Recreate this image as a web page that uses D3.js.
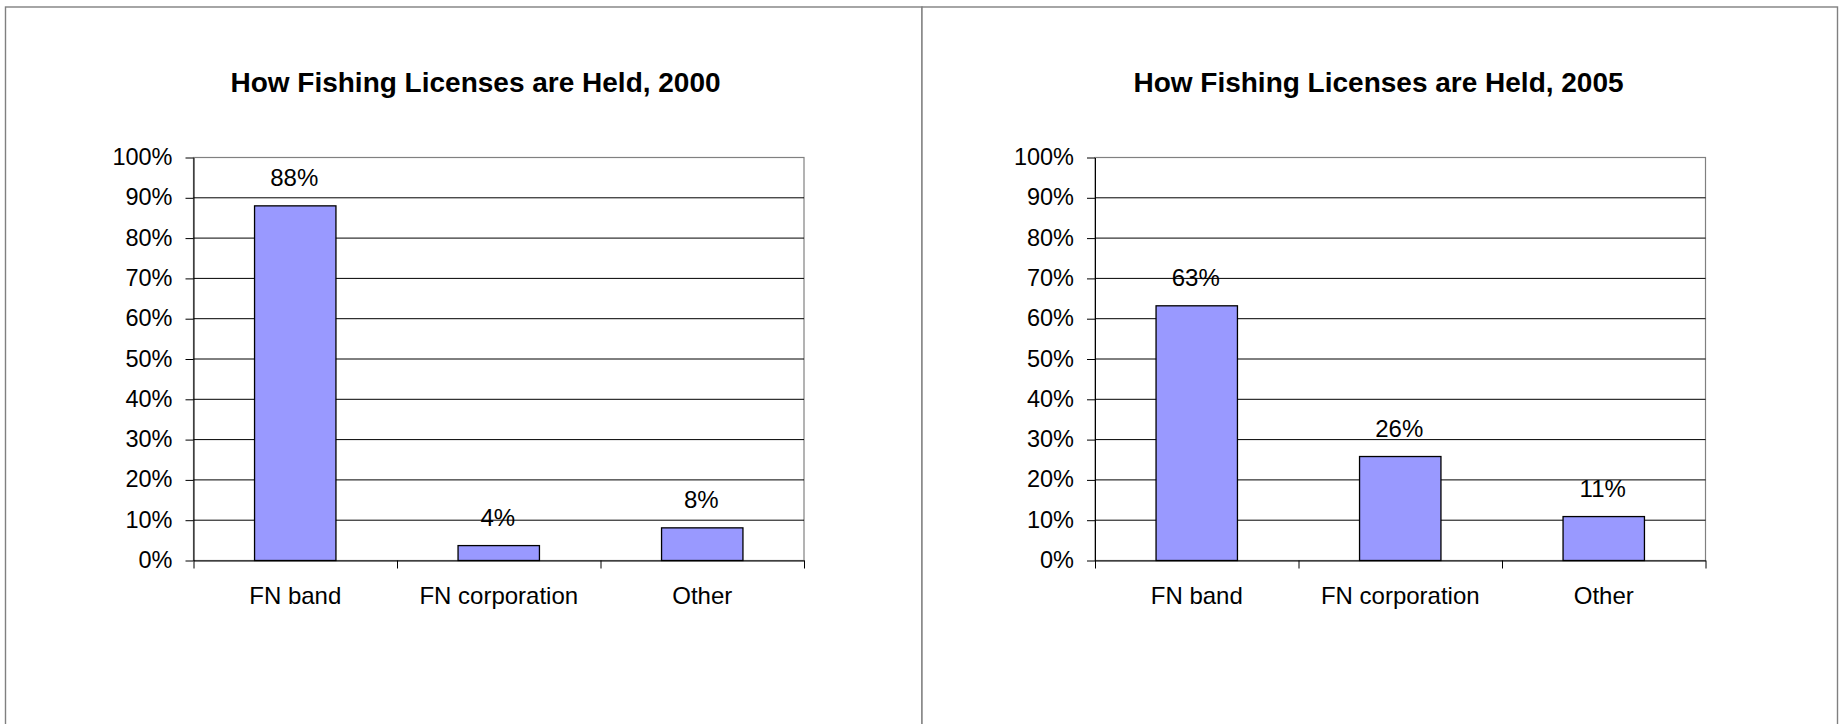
<!DOCTYPE html>
<html>
<head>
<meta charset="utf-8">
<script src="https://cdn.jsdelivr.net/npm/d3@7"></script>
<style>
  body { margin: 0; background: #fff; }
  svg { display: block; }
  text { font-family: "Liberation Sans", Arial, sans-serif; fill: #000; }
</style>
</head>
<body>
<svg id="svg1" width="1839" height="724"></svg>
<script>
// data
var categories = ["FN band", "FN corporation", "Other"];
var values2000 = [0.88, 0.037, 0.081];
var values2005 = [0.632, 0.258, 0.109];
var titles = ["How Fishing Licenses are Held, 2000", "How Fishing Licenses are Held, 2005"];
var yTicks = [0, 0.1, 0.2, 0.3, 0.4, 0.5, 0.6, 0.7, 0.8, 0.9, 1.0];

const svg = d3.select("#svg1");
const pct = d3.format(".0%");

// panel frames (chart areas), they run off the bottom of the page
svg.append("rect").attr("x", 5.5).attr("y", 7).attr("width", 916.5).attr("height", 740)
   .style("fill", "#fff").style("stroke", "#808080").style("stroke-width", 1.4);
svg.append("rect").attr("x", 922).attr("y", 7).attr("width", 915.5).attr("height", 740)
   .style("fill", "#fff").style("stroke", "#808080").style("stroke-width", 1.4);

function drawPanel(title, values, left, titleX) {
    const top = 157.5, width = 610.5, height = 403;
    const g = svg.append("g").attr("transform", `translate(${left},${top})`);

    const y = d3.scaleLinear().domain([0, 1]).range([height, 0]);
    const x = d3.scaleBand().domain(categories).range([0, width]).paddingInner(0.6).paddingOuter(0.3);
    const xl = d3.scaleBand().domain(categories).range([0, width]);   // label positions
    const xt = d3.scaleLinear().domain([0, categories.length]).range([0, width]); // tick marks between categories

    // plot area border
    g.append("rect").attr("width", width).attr("height", height)
     .style("fill", "none").style("stroke", "#808080").style("stroke-width", 1.2);

    // gridlines
    g.selectAll(".grid").data(yTicks.slice(1, -1)).enter().append("line")
     .attr("class", "grid")
     .attr("x1", 0).attr("x2", width)
     .attr("y1", d => y(d)).attr("y2", d => y(d))
     .style("stroke", "#000").style("stroke-width", 1);

    // bars
    g.selectAll(".bar").data(values).enter().append("rect")
     .attr("class", "bar")
     .attr("x", (d, i) => x(categories[i]))
     .attr("y", d => y(d))
     .attr("width", x.bandwidth())
     .attr("height", d => height - y(d))
     .style("fill", "#9999FF").style("stroke", "#000").style("stroke-width", 1.3);

    // value labels
    g.selectAll(".val").data(values).enter().append("text")
     .attr("class", "val")
     .attr("x", (d, i) => x(categories[i]) + x.bandwidth() / 2 - 1)
     .attr("y", d => y(d) - 19.5)
     .attr("text-anchor", "middle")
     .style("font-size", "24px")
     .text(d => pct(d));

    // y axis
    const ya = g.append("g")
     .call(d3.axisLeft(y).tickValues(yTicks).tickFormat(pct).tickSize(8).tickSizeOuter(0).tickPadding(13));
    ya.select(".domain").style("stroke", "#000");
    ya.selectAll(".tick line").style("stroke", "#000");
    ya.selectAll(".tick text").style("font-size", "23.5px").attr("dy", "0.3em");

    // x axis: tick marks at category boundaries
    const xa = g.append("g").attr("transform", `translate(0,${height})`)
     .call(d3.axisBottom(xt).tickValues(d3.range(categories.length + 1)).tickFormat("").tickSize(8).tickSizeOuter(0));
    xa.select(".domain").style("stroke", "#000");
    xa.selectAll(".tick line").style("stroke", "#000");

    // x labels
    g.append("g").attr("transform", `translate(0,${height})`)
     .call(d3.axisBottom(xl).tickSize(0).tickPadding(26))
     .call(a => a.select(".domain").remove())
     .selectAll("text").style("font-size", "24px").attr("dy", "0.71em");

    // title
    svg.append("text")
     .attr("x", titleX).attr("y", 92)
     .attr("text-anchor", "middle")
     .style("font-size", "28px").style("font-weight", "bold")
     .text(title);
}

drawPanel(titles[0], values2000, 193.5, 475.5);
drawPanel(titles[1], values2005, 1095, 1378.5);
</script>
</body>
</html>
